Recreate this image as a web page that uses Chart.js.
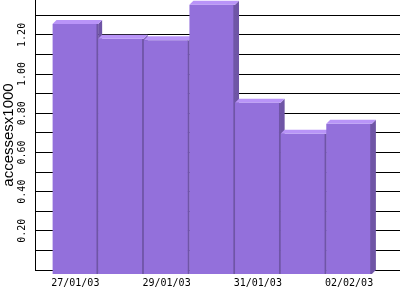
<!DOCTYPE html>
<html>
<head>
<meta charset="utf-8">
<script src="https://cdn.jsdelivr.net/npm/chart.js@4/dist/chart.umd.min.js"></script>
<style>
	body { margin: 0; background: #fff; }
	#wrap { width: 400px; height: 300px; }
</style>
</head>
<body>
<div id="wrap"><canvas id="myChart" width="400" height="300"></canvas></div>
<script>
// days on the x axis (every other one gets a label)
const dates = ["27/01/03", "28/01/03", "29/01/03", "30/01/03", "31/01/03", "01/02/03", "02/02/03"];
// accesses per day, in thousands
const accesses = [1.255, 1.18, 1.173, 1.354, 0.854, 0.695, 0.746];
const yMax = 1.378;

const frontColor = "#9370db";
const topColor = "#b994f8";
const sideColor = "#6f55a6";
const depth = 4;

// fake 3d: top and side faces drawn behind the front faces
const faces = {
	id: "faces",
	beforeDatasetsDraw(chart) {
		const ctx = chart.ctx;
		ctx.save();
		for (const bar of chart.getDatasetMeta(0).data) {
			const { x, y, width, base } = bar.getProps(["x", "y", "width", "base"], true);
			const l = x - width / 2;
			const r = x + width / 2;
			ctx.fillStyle = sideColor;
			ctx.beginPath();
			ctx.moveTo(r, y);
			ctx.lineTo(r + depth, y - depth);
			ctx.lineTo(r + depth, base - depth);
			ctx.lineTo(r, base);
			ctx.closePath();
			ctx.fill();
			ctx.fillStyle = topColor;
			ctx.beginPath();
			ctx.moveTo(l, y);
			ctx.lineTo(l + depth, y - depth);
			ctx.lineTo(r + depth, y - depth);
			ctx.lineTo(r, y);
			ctx.closePath();
			ctx.fill();
		}
		ctx.restore();
	},
};

const tickFont = { family: "'DejaVu Sans Mono', monospace", size: 10 };

const ctx = document.getElementById("myChart").getContext("2d");
const myChart = new Chart(ctx, {
	type: "bar",
	data: {
		datasets: [
			{
				data: accesses.map((v, i) => ({ x: i, y: v })),
				backgroundColor: frontColor,
				borderColor: sideColor,
				borderWidth: { top: 0, left: 0, bottom: 0, right: 2 },
				borderSkipped: false,
				categoryPercentage: 1,
				barPercentage: 1,
				base: -0.02,
				clip: false,
			},
		],
	},
	options: {
		responsive: false,
		animation: false,
		layout: { padding: 0 },
		plugins: { legend: { display: false }, tooltip: { enabled: false } },
		scales: {
			x: {
				type: "linear",
				offset: false,
				min: -0.884,
				max: 7.116,
				z: 1,
				grid: { display: false },
				border: { display: true, color: "#000", width: 1 },
				afterBuildTicks: (s) => {
					s.ticks = dates.map((d, i) => i).filter((i) => i % 2 === 0).map((i) => ({ value: i }));
				},
				afterFit: (s) => {
					s.height = 30;
					s.paddingLeft = 0;
					s.paddingRight = 0;
				},
				ticks: {
					autoSkip: false,
					maxRotation: 0,
					padding: -1,
					color: "#000",
					font: tickFont,
					callback: (v) => dates[v] ?? "",
				},
			},
			y: {
				min: 0,
				max: yMax,
				grid: { color: "#000", lineWidth: 1, drawTicks: false },
				border: { display: true, color: "#000", width: 1 },
				afterFit: (s) => {
					s.width = 35;
					s.paddingTop = 0;
					s.paddingBottom = 0;
				},
				title: {
					display: true,
					text: "accessesx1000",
					color: "#000",
					padding: 1,
					font: { family: "'Liberation Sans', sans-serif", size: 15, lineHeight: 1 },
				},
				ticks: {
					stepSize: 0.1,
					includeBounds: false,
					autoSkip: false,
					minRotation: 90,
					maxRotation: 90,
					crossAlign: "center",
					padding: 1,
					color: "#000",
					font: tickFont,
					callback: (v) => {
						const n = Math.round(v * 10);
						return n > 0 && n % 2 === 0 ? (n / 10).toFixed(2) : "";
					},
				},
			},
		},
	},
	plugins: [faces],
});
</script>
</body>
</html>
